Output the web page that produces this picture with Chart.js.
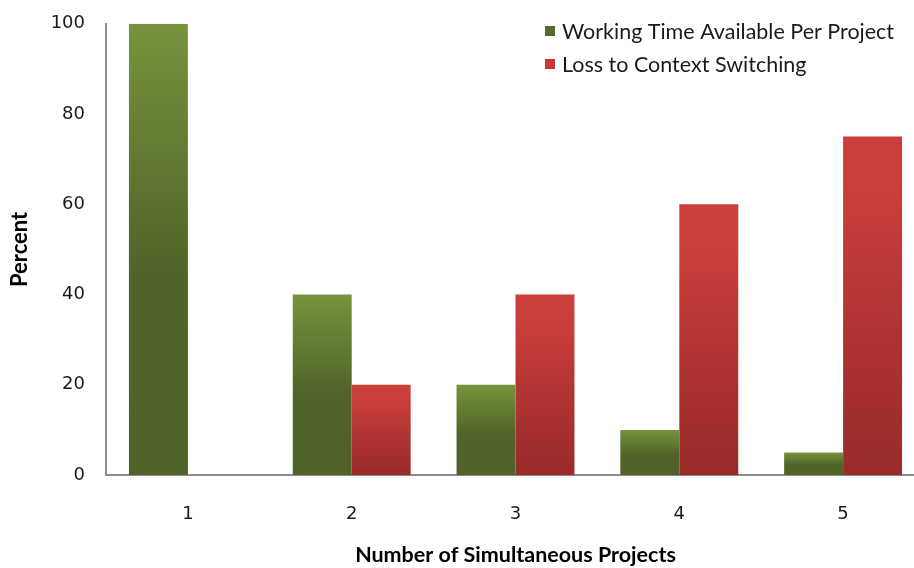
<!DOCTYPE html>
<html>
<head>
<meta charset="utf-8">
<script src="https://cdn.jsdelivr.net/npm/chart.js@4.4.1/dist/chart.umd.min.js"></script>
<style>
  html, body { margin: 0; padding: 0; background: #fff; overflow: hidden; }
  #wrap { width: 914px; height: 568px; overflow: hidden; }
</style>
</head>
<body>
<div id="wrap"><canvas id="chart" width="930" height="568"></canvas></div>
<script>
const projects = ["1", "2", "3", "4", "5"];
const workingTime = [100, 40, 20, 10, 5];
const contextLoss = [0, 20, 40, 60, 75];
const yTicks = [0, 20, 40, 60, 80, 100];

const greenStops = [[0, "#78933c"], [0.55, "#506329"], [1, "#4f6228"]];
const redStops = [[0, "#cd3f3c"], [0.2, "#c83d3a"], [0.6, "#ae3331"], [1, "#992b29"]];

// vertical gradient spanning each bar from its top down to zero
function barFill(context, stops) {
  const chart = context.chart;
  if (!chart.chartArea || context.raw === undefined) return stops[1][1];
  const y = chart.scales.y;
  const top = y.getPixelForValue(context.raw);
  const base = y.getPixelForValue(0);
  if (base - top < 1) return stops[1][1];
  const g = chart.ctx.createLinearGradient(0, top, 0, base);
  stops.forEach(([at, color]) => g.addColorStop(at, color));
  return g;
}

// legend drawn inside the plot area, top right
const insideLegend = {
  id: "insideLegend",
  afterDraw(chart) {
    const ctx = chart.ctx;
    const swatches = ["#556b2c", "#c23b38"];
    ctx.save();
    ctx.font = "21.5px Lato";
    ctx.textBaseline = "middle";
    chart.data.datasets.forEach((ds, i) => {
      const y = 31 + i * 33;
      ctx.fillStyle = swatches[i];
      ctx.fillRect(545, y - 5, 10, 10);
      ctx.fillStyle = "#1a1a1a";
      ctx.fillText(ds.label, 562, y + 1);
    });
    ctx.restore();
  }
};

const tickColor = "#1a1a1a";

new Chart(document.getElementById("chart"), {
  type: "bar",
  data: {
    labels: projects,
    datasets: [
      {
        label: "Working Time Available Per Project",
        data: workingTime,
        backgroundColor: (c) => barFill(c, greenStops),
        barPercentage: 1,
        categoryPercentage: 0.72
      },
      {
        label: "Loss to Context Switching",
        data: contextLoss,
        backgroundColor: (c) => barFill(c, redStops),
        barPercentage: 1,
        categoryPercentage: 0.72
      }
    ]
  },
  options: {
    responsive: false,
    animation: false,
    layout: { padding: { top: 15, right: 5, left: 0, bottom: 0 } },
    plugins: {
      legend: { display: false },
      tooltip: { enabled: false }
    },
    scales: {
      x: {
        grid: { display: false },
        border: { display: true, color: "#8c8c8c", width: 2 },
        ticks: { color: tickColor, font: { family: "DejaVu Sans", size: 18 }, padding: 21 },
        title: {
          display: true,
          text: "Number of Simultaneous Projects",
          color: "#000",
          font: { family: "Lato", size: 21.5, weight: "bold" },
          padding: { top: 0, bottom: 0 }
        },
        afterFit: (s) => { s.height = 93; }
      },
      y: {
        min: 0,
        max: 100,
        grid: { display: false },
        border: { display: true, color: "#8c8c8c", width: 2 },
        afterBuildTicks: (s) => { s.ticks = yTicks.map((v) => ({ value: v })); },
        ticks: { color: tickColor, font: { family: "DejaVu Sans", size: 18 }, padding: 13 },
        title: {
          display: true,
          text: "Percent",
          color: "#000",
          font: { family: "Lato", size: 22, weight: "bold" },
          padding: { top: 7, bottom: 0 }
        },
        afterFit: (s) => { s.width = 106; }
      }
    }
  },
  plugins: [insideLegend]
});
</script>
</body>
</html>
